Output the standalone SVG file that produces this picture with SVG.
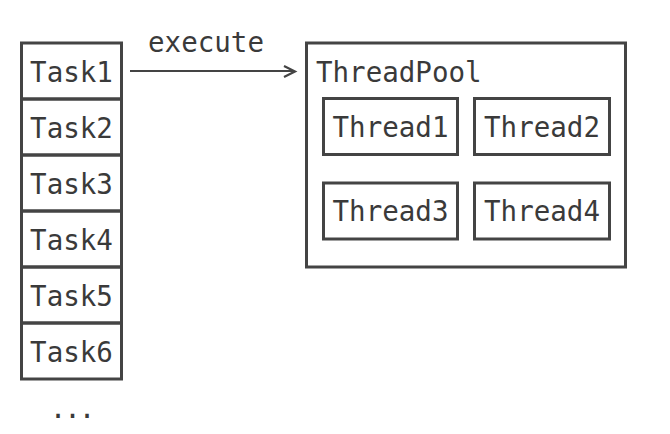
<svg xmlns="http://www.w3.org/2000/svg" width="670" height="434" viewBox="0 0 670 434">
<style>
.box{fill:none;stroke:#444;stroke-width:3}
.t{font-family:"DejaVu Sans Mono","Liberation Mono",monospace;font-size:27.5px;fill:#3a3a3a}
.c{text-anchor:middle}
.edge{fill:none;stroke:#444;stroke-width:2.2}
</style>
<rect width="670" height="434" fill="#fff"/>
<g id="task1"><rect class="box" x="21.5" y="43" width="100" height="56"/><text class="t c" x="71.5" y="81.5">Task1</text></g>
<g id="task2"><rect class="box" x="21.5" y="99" width="100" height="56"/><text class="t c" x="71.5" y="137.5">Task2</text></g>
<g id="task3"><rect class="box" x="21.5" y="155" width="100" height="56"/><text class="t c" x="71.5" y="193.5">Task3</text></g>
<g id="task4"><rect class="box" x="21.5" y="211" width="100" height="56"/><text class="t c" x="71.5" y="249.5">Task4</text></g>
<g id="task5"><rect class="box" x="21.5" y="267" width="100" height="56"/><text class="t c" x="71.5" y="305.5">Task5</text></g>
<g id="task6"><rect class="box" x="21.5" y="323" width="100" height="56"/><text class="t c" x="71.5" y="361.5">Task6</text></g>
<g id="more"><text class="t c" x="71.5" y="418" letter-spacing="-2">...</text></g>
<g id="threadpool"><rect class="box" x="306.5" y="43" width="319" height="224"/><text class="t" x="316" y="81.5">ThreadPool</text></g>
<g id="thread1"><rect class="box" x="323.5" y="98.5" width="134" height="56"/><text class="t c" x="390.5" y="136.5">Thread1</text></g>
<g id="thread2"><rect class="box" x="474.5" y="98.5" width="135" height="56"/><text class="t c" x="542" y="136.5">Thread2</text></g>
<g id="thread3"><rect class="box" x="323.5" y="183" width="134" height="56"/><text class="t c" x="390.5" y="221">Thread3</text></g>
<g id="thread4"><rect class="box" x="474.5" y="183" width="135" height="56"/><text class="t c" x="542" y="221">Thread4</text></g>
<g id="connectors">
<line class="edge" x1="130" y1="71" x2="293" y2="71"/>
<path class="edge" d="M284,66 L295,71.5 L284,77"/>
<text class="t c" x="206" y="52">execute</text>
</g>
</svg>
